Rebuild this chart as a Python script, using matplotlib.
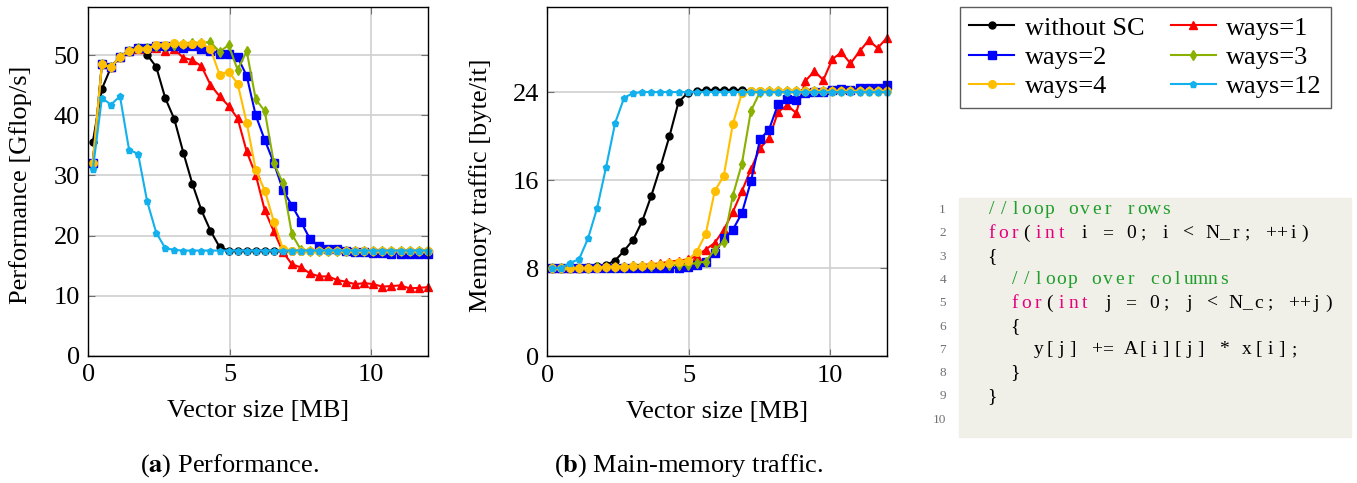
import matplotlib
matplotlib.use("Agg")
import matplotlib.pyplot as plt

plt.rcParams['font.family'] = ['Liberation Serif', 'DejaVu Serif']
plt.rcParams['mathtext.fontset'] = 'stix'

# vector sizes [MB]
x = [0.16, 0.48, 0.80, 1.12, 1.44, 1.76, 2.08, 2.40, 2.72, 3.04, 3.36, 3.68, 4.00,
     4.32, 4.64, 4.96, 5.28, 5.60, 5.92, 6.24, 6.56, 6.88, 7.20, 7.52, 7.84, 8.16,
     8.48, 8.80, 9.12, 9.44, 9.76, 10.08, 10.40, 10.72, 11.04, 11.36, 11.68, 12.00]

# (a) performance [Gflop/s]
perf_nosc = [35.6, 44.4, 48.0, 49.8, 50.7, 51.1, 50.1, 48.1, 42.9, 39.4, 33.8, 28.6, 24.2,
             20.8, 18.1, 17.5, 17.5, 17.5, 17.5, 17.5, 17.5, 17.5, 17.5, 17.5, 17.5, 17.5,
             17.5, 17.5, 17.5, 17.5, 17.5, 17.5, 17.5, 17.5, 17.5, 17.5, 17.5, 17.5]
perf_w1 = [32.1, 48.5, 48.0, 49.8, 50.7, 51.1, 51.2, 51.2, 50.8, 51.0, 49.6, 49.2, 48.2,
           45.1, 43.2, 41.6, 39.5, 34.0, 30.1, 24.2, 20.7, 17.3, 15.2, 14.7, 13.7, 13.2,
           13.2, 12.6, 12.3, 11.9, 12.1, 11.9, 11.5, 11.6, 11.7, 11.2, 11.3, 11.4]
perf_w2 = [32.1, 48.5, 48.0, 49.8, 50.7, 51.2, 51.2, 51.5, 51.6, 51.5, 51.3, 51.5, 51.1,
           50.8, 50.3, 50.2, 49.7, 46.6, 40.0, 35.9, 32.1, 27.6, 25.0, 22.3, 19.4, 18.2,
           17.8, 17.7, 17.4, 17.3, 17.3, 17.1, 17.1, 17.0, 17.0, 17.0, 17.0, 16.9]
perf_w3 = [32.1, 48.5, 48.0, 49.8, 50.7, 51.2, 51.3, 51.5, 51.6, 51.7, 51.9, 52.1, 52.1,
           52.2, 50.6, 51.7, 47.6, 50.7, 42.7, 40.7, 32.1, 28.7, 20.2, 17.6, 17.5, 17.5,
           17.5, 17.5, 17.5, 17.5, 17.5, 17.5, 17.5, 17.5, 17.5, 17.5, 17.5, 17.5]
perf_w4 = [32.1, 48.5, 48.0, 49.8, 50.7, 51.1, 51.1, 51.8, 51.8, 52.0, 51.9, 51.9, 52.0,
           51.1, 46.8, 47.3, 45.3, 38.8, 30.9, 27.5, 22.3, 17.8, 17.5, 17.5, 17.5, 17.5,
           17.5, 17.5, 17.5, 17.5, 17.5, 17.5, 17.5, 17.5, 17.5, 17.5, 17.5, 17.5]
perf_w12 = [31.0, 42.9, 41.8, 43.2, 34.3, 33.6, 25.7, 20.5, 17.9, 17.6, 17.5, 17.5, 17.5,
            17.5, 17.5, 17.5, 17.5, 17.5, 17.5, 17.5, 17.5, 17.5, 17.5, 17.5, 17.5, 17.5,
            17.5, 17.5, 17.5, 17.5, 17.5, 17.5, 17.5, 17.5, 17.5, 17.5, 17.5, 17.5]

# (b) main-memory traffic [byte/it]
mem_nosc = [8.0, 8.0, 8.0, 8.05, 8.1, 8.2, 8.3, 8.7, 9.6, 10.6, 12.3, 14.6, 17.2,
            20.0, 23.1, 23.9, 24.1, 24.2, 24.2, 24.2, 24.2, 24.2, 24.1, 24.1, 24.1, 24.1,
            24.1, 24.1, 24.1, 24.1, 24.1, 24.1, 24.1, 24.1, 24.1, 24.1, 24.1, 24.1]
mem_w1 = [8.0, 8.0, 8.0, 8.05, 8.1, 8.1, 8.15, 8.2, 8.2, 8.25, 8.3, 8.35, 8.45,
          8.6, 8.7, 8.8, 9.1, 9.7, 10.3, 11.5, 13.1, 15.0, 17.0, 18.9, 19.8, 22.2,
          22.8, 22.1, 25.0, 25.9, 25.1, 27.0, 27.6, 26.6, 27.7, 28.7, 28.0, 28.9]
mem_w2 = [8.0, 8.0, 8.0, 8.0, 8.0, 8.0, 8.0, 8.0, 8.0, 8.0, 8.0, 8.0, 8.0,
          8.0, 8.05, 8.15, 8.3, 8.6, 9.4, 10.7, 11.5, 13.0, 15.9, 19.7, 20.6, 22.9,
          23.4, 23.3, 23.9, 24.0, 24.0, 24.2, 24.3, 24.2, 24.4, 24.4, 24.4, 24.6]
mem_w3 = [8.0, 8.0, 8.0, 8.0, 8.05, 8.1, 8.1, 8.15, 8.15, 8.2, 8.2, 8.2, 8.25,
          8.3, 8.3, 8.3, 8.5, 8.6, 9.7, 10.4, 14.6, 17.5, 22.3, 24.0, 24.1, 24.1,
          24.1, 24.1, 24.1, 24.1, 24.1, 24.1, 24.1, 24.1, 24.1, 24.1, 24.1, 24.1]
mem_w4 = [8.0, 8.0, 8.0, 8.0, 8.0, 8.05, 8.1, 8.15, 8.15, 8.2, 8.2, 8.25, 8.3,
          8.45, 8.6, 8.7, 9.5, 11.1, 15.0, 16.4, 21.1, 23.9, 24.1, 24.1, 24.1, 24.1,
          24.1, 24.1, 24.1, 24.1, 24.1, 24.1, 24.1, 24.1, 24.1, 24.1, 24.1, 24.1]
mem_w12 = [8.0, 8.0, 8.5, 8.8, 10.7, 13.45, 17.2, 21.2, 23.5, 23.9, 24.0, 24.0, 24.0,
           24.0, 24.0, 24.0, 24.0, 24.0, 24.0, 24.0, 24.0, 24.0, 24.0, 24.0, 24.0, 24.0,
           24.0, 24.0, 24.0, 24.0, 24.0, 24.0, 24.0, 24.0, 24.0, 24.0, 24.0, 24.0]

labels = ["without SC", "ways=1", "ways=2", "ways=3", "ways=4", "ways=12"]
colors = ["black", "#ff0000", "#0000ff", "#8ab000", "#ffbf00", "#12b0ec"]
markers = ["o", "^", "s", "d", "o", "p"]
msizes = [5, 5.5, 5.5, 5.5, 5.5, 4.5]

perf = [perf_nosc, perf_w1, perf_w2, perf_w3, perf_w4, perf_w12]
mem = [mem_nosc, mem_w1, mem_w2, mem_w3, mem_w4, mem_w12]

FS = 19
W, H = 1357, 483
fig = plt.figure(figsize=(W/100, H/100), dpi=100)

def style(ax, ymax, yticks):
  ax.set_xlim(0, 12)
  ax.set_ylim(0, ymax)
  ax.set_xticks([0, 5, 10])
  ax.set_yticks(yticks)
  ax.grid(True, color="#d0d0d0", lw=1.2)
  ax.set_axisbelow(True)
  ax.tick_params(direction="in", top=True, right=True, length=5, color="#707070",
                 labelsize=FS, pad=6)
  for s in ax.spines.values():
    s.set_linewidth(1.0)
  ax.set_xlabel("Vector size [MB]", fontsize=FS, labelpad=10)

ax1 = fig.add_axes([88.3/W, 1 - 355.7/H, 339.4/W, 348.4/H])
ax2 = fig.add_axes([547.3/W, 1 - 356.3/H, 339.4/W, 349.0/H])

handles = []
for ys, c, m, ms, lab in zip(perf, colors, markers, msizes, labels):
  h, = ax1.plot(x, ys, color=c, marker=m, ms=ms, lw=1.5, label=lab, clip_on=False)
  handles.append(h)
for ys, c, m, ms in zip(mem, colors, markers, msizes):
  ax2.plot(x, ys, color=c, marker=m, ms=ms, lw=1.5, clip_on=False)

style(ax1, 58, [0, 10, 20, 30, 40, 50])
ax1.set_ylabel("Performance [Gflop/s]", fontsize=FS)
ax1.yaxis.set_label_coords(-0.166, 0.49)
style(ax2, 31.7, [0, 8, 16, 24])
ax2.set_ylabel("Memory traffic [byte/it]", fontsize=FS)
ax2.yaxis.set_label_coords(-0.163, 0.49)

# legend: rows (without SC, ways=1), (ways=2, ways=3), (ways=4, ways=12)
order = [0, 2, 4, 1, 3, 5]
leg = fig.legend([handles[i] for i in order], [labels[i] for i in order],
                 loc="upper left", bbox_to_anchor=(960/W, 1 - 7/H), ncol=2,
                 fontsize=FS, frameon=True, fancybox=False, handlelength=1.7,
                 columnspacing=1.0, labelspacing=0.22, borderpad=0.35,
                 handletextpad=0.4, borderaxespad=0)
leg.get_frame().set_edgecolor("#333333")
leg.get_frame().set_linewidth(1.0)

# captions
fig.text(229/W, 1 - 466/H, r"($\mathbf{a}$) Performance.", ha="center", va="center", fontsize=FS)
fig.text(689/W, 1 - 466/H, r"($\mathbf{b}$) Main-memory traffic.", ha="center", va="center", fontsize=FS)

# code listing
fig.patches.append(plt.Rectangle((959/W, 1 - 437/H), (1351 - 959)/W, (437 - 198)/H,
                                 transform=fig.transFigure, color="#f0efe8", zorder=0))
code_lines = [
  [("//loop over rows", "c")],
  [("for", "k"), ("(", "n"), ("int", "k"), (" i = 0; i < N_r; ++i)", "n")],
  [("{", "n")],
  [("  //loop over columns", "c")],
  [("  for", "k"), ("(", "n"), ("int", "k"), (" j = 0; j < N_c; ++j)", "n")],
  [("  {", "n")],
  [("    y[j] += A[i][j] * x[i];", "n")],
  [("  }", "n")],
  [("}", "n")],
  [],
]
code_colors = {"c": "#1f9e2c", "k": "#e5007e", "n": "black"}
cw = 11.6
for i, parts in enumerate(code_lines):
  yy = 1 - (210 + i*23.3)/H
  fig.text(946/W, yy, str(i + 1), ha="right", va="center", fontsize=9.5, color="#707070")
  col = 0
  for txt, kind in parts:
    for ch in txt:
      if ch != " ":
        fig.text((986 + (col + 0.5)*cw)/W, yy, ch, ha="center", va="center",
                 fontsize=14, color=code_colors[kind])
      col += 1

fig.savefig("out.png", dpi=100)
